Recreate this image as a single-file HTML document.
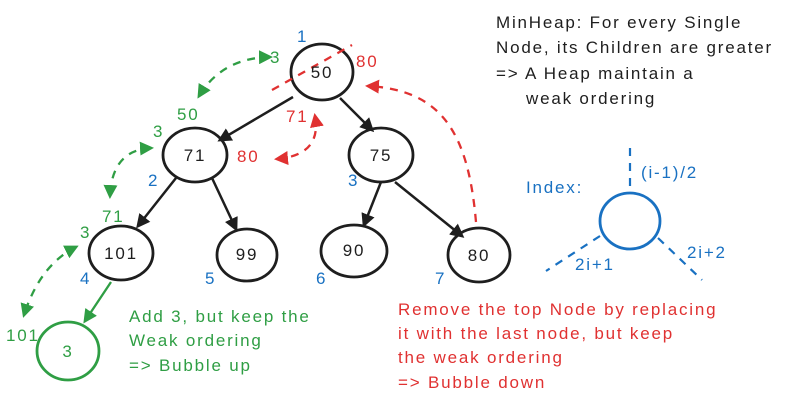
<!DOCTYPE html>
<html><head><meta charset="utf-8"><style>
html,body{margin:0;padding:0;background:#fff;}
svg{display:block}
text{font-family:"Liberation Sans",sans-serif;font-size:17px;letter-spacing:1.8px;}
</style></head><body>
<svg width="803" height="407" viewBox="0 0 803 407" xmlns="http://www.w3.org/2000/svg">
<defs>
<marker id="ab" markerWidth="14" markerHeight="14" refX="11" refY="7" orient="auto" markerUnits="userSpaceOnUse"><path d="M0,0 L14,7 L0,14 z" fill="#1e1e1e"/></marker>
<marker id="ag" markerWidth="14" markerHeight="14" refX="11" refY="7" orient="auto" markerUnits="userSpaceOnUse"><path d="M0,0 L14,7 L0,14 z" fill="#2f9e44"/></marker>
<marker id="agS" markerWidth="14" markerHeight="14" refX="3" refY="7" orient="auto" markerUnits="userSpaceOnUse"><path d="M14,0 L0,7 L14,14 z" fill="#2f9e44"/></marker>
<marker id="ar" markerWidth="14" markerHeight="14" refX="11" refY="7" orient="auto" markerUnits="userSpaceOnUse"><path d="M0,0 L14,7 L0,14 z" fill="#e03131"/></marker>
<marker id="arS" markerWidth="14" markerHeight="14" refX="3" refY="7" orient="auto" markerUnits="userSpaceOnUse"><path d="M14,0 L0,7 L14,14 z" fill="#e03131"/></marker>
</defs>
<g fill="none" stroke="#1e1e1e" stroke-width="2.8">
<ellipse cx="322" cy="72" rx="31" ry="28"/>
<ellipse cx="195" cy="155" rx="32" ry="27"/>
<ellipse cx="381" cy="155" rx="32" ry="27"/>
<ellipse cx="121" cy="253" rx="32" ry="27"/>
<ellipse cx="247" cy="255" rx="30" ry="26"/>
<ellipse cx="354" cy="251" rx="33" ry="26"/>
<ellipse cx="479" cy="255" rx="31" ry="27"/>
</g>
<g stroke="#1e1e1e" stroke-width="2.5" fill="none">
<line x1="293" y1="97" x2="220" y2="140" marker-end="url(#ab)"/>
<line x1="340" y1="98" x2="372" y2="130" marker-end="url(#ab)"/>
<line x1="176" y1="178" x2="138" y2="226" marker-end="url(#ab)"/>
<line x1="212" y1="178" x2="236" y2="229" marker-end="url(#ab)"/>
<line x1="381" y1="182" x2="364" y2="225" marker-end="url(#ab)"/>
<line x1="395" y1="182" x2="462" y2="236" marker-end="url(#ab)"/>
</g>
<ellipse cx="68" cy="351" rx="31" ry="29" fill="none" stroke="#2f9e44" stroke-width="2.8"/>
<line x1="111" y1="282" x2="85" y2="321" stroke="#2f9e44" stroke-width="2.3" marker-end="url(#ag)"/>
<g stroke="#2f9e44" stroke-width="2.3" fill="none" stroke-dasharray="8 7">
<path d="M270,57 Q222,58 199,96" marker-end="url(#ag)" marker-start="url(#agS)"/>
<path d="M151,148 Q112,150 110,196" marker-end="url(#ag)" marker-start="url(#agS)"/>
<path d="M76,247 Q40,265 24,315" marker-end="url(#ag)" marker-start="url(#agS)"/>
</g>
<g stroke="#e03131" stroke-width="2.3" fill="none" stroke-dasharray="8 7">
<line x1="272" y1="90" x2="352" y2="45"/>
<path d="M476,222 C468,130 440,90 368,86" marker-end="url(#ar)"/>
<path d="M315,116 Q322,155 277,159" marker-end="url(#ar)" marker-start="url(#arS)"/>
</g>
<ellipse cx="630" cy="221" rx="30" ry="28" fill="none" stroke="#1971c2" stroke-width="2.8"/>
<g stroke="#1971c2" stroke-width="2.2" stroke-dasharray="8 7">
<line x1="630" y1="148" x2="630" y2="193"/>
<line x1="600" y1="236" x2="546" y2="271"/>
<line x1="658" y1="238" x2="702" y2="280"/>
</g>
<g fill="#1e1e1e" text-anchor="middle">
<text x="322" y="78">50</text><text x="195" y="161">71</text><text x="381" y="161">75</text>
<text x="121" y="259">101</text><text x="247" y="260">99</text><text x="354" y="256">90</text><text x="479" y="261">80</text>
</g>
<text x="68" y="357" fill="#2f9e44" text-anchor="middle">3</text>
<g fill="#1971c2">
<text x="297" y="42">1</text><text x="148" y="186">2</text><text x="348" y="186">3</text>
<text x="80" y="284">4</text><text x="205" y="284">5</text><text x="316" y="284">6</text><text x="435" y="284">7</text>
<text x="526" y="193">Index:</text><text x="641" y="178">(i-1)/2</text><text x="575" y="270">2i+1</text><text x="687" y="258">2i+2</text>
</g>
<g fill="#2f9e44">
<text x="270" y="63">3</text><text x="177" y="120">50</text><text x="153" y="137">3</text>
<text x="102" y="222">71</text><text x="80" y="238">3</text><text x="6" y="341">101</text>
<text x="129" y="322">Add 3, but keep the</text><text x="129" y="346">Weak ordering</text><text x="129" y="371">=&gt; Bubble up</text>
</g>
<g fill="#e03131">
<text x="356" y="67">80</text><text x="286" y="122">71</text><text x="237" y="162">80</text>
<text x="398" y="315">Remove the top Node by replacing</text><text x="398" y="339">it with the last node, but keep</text>
<text x="398" y="363">the weak ordering</text><text x="398" y="388">=&gt; Bubble down</text>
</g>
<g fill="#1e1e1e">
<text x="496" y="28">MinHeap: For every Single</text><text x="496" y="53">Node, its Children are greater</text>
<text x="496" y="79">=&gt; A Heap maintain a</text><text x="526" y="104">weak ordering</text>
</g>
</svg>
</body></html>
